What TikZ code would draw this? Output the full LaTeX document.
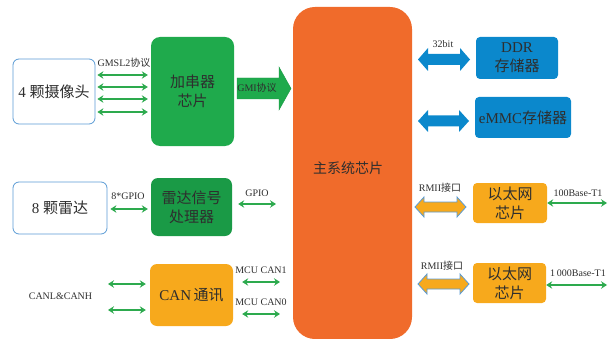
\documentclass[tikz,border=0pt]{standalone}
\usepackage{fontspec}
\setmainfont{Liberation Serif}
\newfontfamily\cjk{Noto Sans CJK SC}
\usetikzlibrary{arrows.meta,calc}
\definecolor{garrow}{HTML}{2DAA4E}
\definecolor{gchip}{HTML}{1FAA4C}
\definecolor{gchipd}{HTML}{1A9A46}
\definecolor{orangemain}{HTML}{F06B2B}
\definecolor{bluebox}{HTML}{0B88CC}
\definecolor{yellowbox}{HTML}{F7A91C}
\definecolor{lightblue}{HTML}{5B9BD5}
\definecolor{txt}{HTML}{2E2E2E}
\newcommand\zh[1]{{\cjk #1}}
\newcommand\blockarr[6]{%
  \path[#1] (#2) -- ++(#6,#4) -- ++(0,{#5-#4}) -- ($(#3)+(-#6,#5)$) -- ++(0,{#4-#5}) -- (#3)
  -- ++(-#6,-#4) -- ++(0,{#4-#5}) -- ($(#2)+(#6,-#5)$) -- ++(0,{#5-#4}) -- cycle;}
\tikzset{
  box/.style={rounded corners=#1, align=center, text=txt, font=\fontsize{15}{19}\selectfont, inner sep=0pt},
  box/.default=5pt,
  garr/.style={draw=garrow, line width=2pt, {Stealth[length=6pt,width=7.5pt]}-{Stealth[length=6pt,width=7.5pt]}},
  lbl/.style={text=txt, font=\fontsize{10}{12}\selectfont, inner sep=0pt},
}
\begin{document}
\begin{tikzpicture}[x=1pt,y=-1pt]
\useasboundingbox (0,0) rectangle (609,339);
% boxes
\node[box=6pt, draw=lightblue, line width=0.8pt, fill=white, minimum width=82pt, minimum height=65pt] (cam) at (54,91.5) {4 \zh{颗摄像头}};
\node[box=9pt, fill=gchip, minimum width=83pt, minimum height=109pt] (ser) at (192.5,91.5) {\zh{加串器}\\\zh{芯片}};
\node[box=22pt, fill=orangemain, minimum width=119pt, minimum height=332pt, font=\fontsize{14}{17}\selectfont] (main) at (352.5,173) {};
\node[text=txt, font=\fontsize{14}{17}\selectfont\cjk, inner sep=0pt] (maint) at (348,168) {主系统芯片};
\node[box=4pt, fill=bluebox, minimum width=82pt, minimum height=42pt] (ddr) at (517,58) {DDR\\\zh{存储器}};
\node[box=4pt, fill=bluebox, minimum width=96pt, minimum height=41pt] (emmc) at (523,117.5) {eMMC\zh{存储器}};
\node[box=4pt, fill=yellowbox, minimum width=74pt, minimum height=40pt] (eth1) at (510,203) {\zh{以太网}\\\zh{芯片}};
\node[box=4pt, fill=yellowbox, minimum width=73pt, minimum height=40pt] (eth2) at (509.5,283) {\zh{以太网}\\\zh{芯片}};
\node[box=6pt, draw=lightblue, line width=0.8pt, fill=white, minimum width=94pt, minimum height=52pt] (radar) at (60,208) {8 \zh{颗雷达}};
\node[box=7pt, fill=gchipd, minimum width=81pt, minimum height=58pt] (rsp) at (191.5,207) {\zh{雷达信号}\\\zh{处理器}};
\node[box=7pt, fill=yellowbox, minimum width=83pt, minimum height=62pt] (can) at (191.5,295) {CAN\,\zh{通讯}};
% camera -> serializer
\foreach \yy in {75,87,99,112}
  \draw[garr, shorten <=2pt, shorten >=3pt] (cam.east |- 0,\yy) -- (ser.west |- 0,\yy);
\node[lbl] (gmsl) at (124,63) {GMSL2\zh{协议}};
% GMI arrow
\coordinate (gmiS) at (237,88.5);
\coordinate (gmiT) at (291,88.5);
\path[fill=gchip, draw=gchipd, line width=0.4pt] (gmiS) -- ++(0,-10.5) -- ++(42,0) -- ++(0,-11) -- (gmiT) -- ++(-12,21.5) -- ++(0,-11) -- ++(-42,0) -- cycle;
\node[lbl] (gmil) at (257,88) {GMI\zh{协议}};
% radar
\draw[garr, shorten <=3pt, shorten >=3pt] (radar.east |- 0,209) -- (rsp.west |- 0,209);
\node[lbl] (gpio8) at (128,196) {8*GPIO};
\coordinate (gpioE) at (276,204);
\draw[garr, shorten <=6pt] (rsp.east |- gpioE) -- (gpioE);
\node[lbl] (gpiol) at (257,193) {GPIO};
% CAN
\coordinate (canL1) at (108,284);
\coordinate (canL2) at (108,310);
\draw[garr, shorten >=4pt] (canL1) -- (can.west |- canL1);
\draw[garr, shorten >=4pt] (canL2) -- (can.west |- canL2);
\node[lbl] (canlh) at (60.5,296) {CANL\&CANH};
\coordinate (can1E) at (280,282);
\coordinate (can0E) at (280,314);
\draw[garr, shorten <=9pt] (can.east |- can1E) -- (can1E);
\draw[garr, shorten <=9pt] (can.east |- can0E) -- (can0E);
\node[lbl] (mcu1) at (261,270) {MCU CAN1};
\node[lbl] (mcu0) at (261,302) {MCU CAN0};
% memory arrows
\coordinate (dA) at (418,59.5); \coordinate (dB) at (470,59.5);
\blockarr{fill=bluebox}{dA}{dB}{11.5}{5.5}{10}
\node[lbl] (b32) at (443,44) {32bit};
\coordinate (eA) at (418,121); \coordinate (eB) at (469,121);
\blockarr{fill=bluebox}{eA}{eB}{11}{5.5}{10}
% ethernet
\coordinate (r1A) at (415,207); \coordinate (r1B) at (466,207);
\blockarr{fill=yellowbox, draw=lightblue, line width=0.8pt}{r1A}{r1B}{10}{5}{9}
\node[lbl] (rmii1) at (440,188) {RMII\zh{接口}};
\coordinate (r2A) at (418,284); \coordinate (r2B) at (469,284);
\blockarr{fill=yellowbox, draw=lightblue, line width=0.8pt}{r2A}{r2B}{10}{5}{9}
\node[lbl] (rmii2) at (442,266) {RMII\zh{接口}};
\coordinate (t1E) at (607,203);
\draw[garr] (eth1.east |- t1E) -- (t1E);
\node[lbl] (t1l) at (578,193) {100Base-T1};
\coordinate (t2E) at (607,285);
\draw[garr] (eth2.east |- t2E) -- (t2E);
\node[lbl] (t2l) at (578,273) {1\,000Base-T1};
\end{tikzpicture}
\end{document}
